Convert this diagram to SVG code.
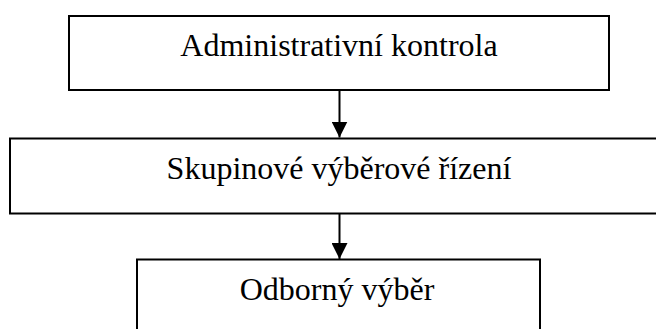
<svg xmlns="http://www.w3.org/2000/svg" width="656" height="329" viewBox="0 0 656 329">
  <style>
    .box { fill: #ffffff; stroke: #000000; stroke-width: 2; }
    .lbl { font-family: "Liberation Serif", "Times New Roman", serif; font-size: 32px; fill: #000000; text-anchor: middle; }
    .edge { stroke: #000000; stroke-width: 2; fill: none; }
  </style>
  <defs>
    <marker id="arrow" markerUnits="userSpaceOnUse" markerWidth="16" markerHeight="16" viewBox="0 0 16 16" refX="16" refY="8" orient="auto">
      <path d="M0,0 L16,8 L0,16 Z" fill="#000000"/>
    </marker>
  </defs>
  <rect width="656" height="329" fill="#ffffff"/>
  <g id="connectors">
    <line class="edge" x1="339.5" y1="91" x2="339.5" y2="137.5" marker-end="url(#arrow)"/>
    <line class="edge" x1="339.5" y1="214" x2="339.5" y2="259" marker-end="url(#arrow)"/>
  </g>
  <g id="node-administrativni-kontrola">
    <rect class="box" x="69" y="16" width="540" height="74"/>
    <text class="lbl" x="339" y="56">Administrativní kontrola</text>
  </g>
  <g id="node-skupinove-vyberove-rizeni">
    <rect class="box" x="10" y="138.5" width="660" height="75"/>
    <text class="lbl" x="339" y="178.5">Skupinové výběrové řízení</text>
  </g>
  <g id="node-odborny-vyber">
    <rect class="box" x="137" y="259.5" width="403" height="90"/>
    <text class="lbl" x="337" y="299.5">Odborný výběr</text>
  </g>
</svg>
